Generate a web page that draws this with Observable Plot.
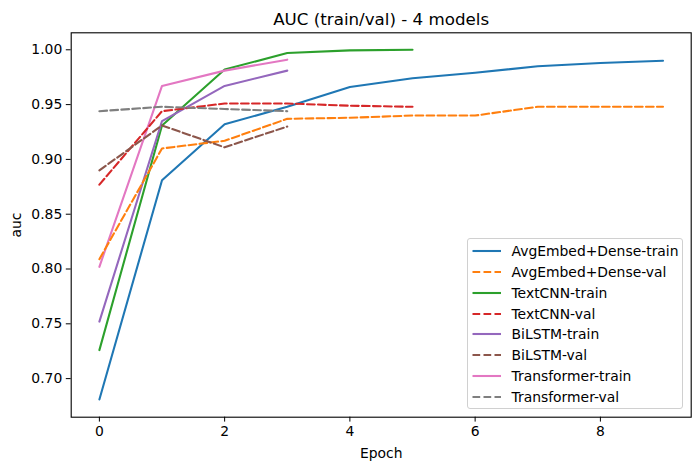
<!DOCTYPE html>
<html><head><meta charset="utf-8">
<script src="https://cdn.jsdelivr.net/npm/d3@7"></script>
<script src="https://cdn.jsdelivr.net/npm/@observablehq/plot@0.6"></script>
<style>
body{margin:0;background:#fff;font-family:"DejaVu Sans",sans-serif;}
#wrap{position:relative;width:700px;height:470px;}
#legend{position:absolute;left:466.5px;top:238px;width:216.5px;height:171px;box-sizing:border-box;border:1px solid #d0d0d0;border-radius:3px;background:rgba(255,255,255,0.8);font-size:13.9px;color:#000;}
.row{position:absolute;left:0;height:20px;width:210px;}
.row svg{position:absolute;left:4px;top:0;}
.row span{position:absolute;left:44px;top:1px;line-height:18px;white-space:nowrap;}
</style></head><body><div id="wrap"></div>
<script>
// ---- data ----
const models = ["AvgEmbed+Dense", "TextCNN", "BiLSTM", "Transformer"];
const colorsTrain = ["#1f77b4", "#2ca02c", "#9467bd", "#e377c2"];
const colorsVal = ["#ff7f0e", "#d62728", "#8c564b", "#7f7f7f"];
const avgTrain = [0.681, 0.881, 0.932, 0.948, 0.966, 0.974, 0.979, 0.985, 0.988, 0.990];
const avgVal = [0.809, 0.910, 0.917, 0.937, 0.938, 0.940, 0.940, 0.948, 0.948, 0.948];
const cnnTrain = [0.726, 0.931, 0.982, 0.997, 0.9995, 1.000];
const cnnVal = [0.877, 0.944, 0.951, 0.951, 0.949, 0.948];
const lstmTrain = [0.752, 0.935, 0.967, 0.981];
const lstmVal = [0.890, 0.931, 0.911, 0.930];
const trfTrain = [0.802, 0.967, 0.981, 0.991];
const trfVal = [0.944, 0.948, 0.946, 0.944];
const yTicks = [0.70, 0.75, 0.80, 0.85, 0.90, 0.95, 1.00];
const xTicks = [0, 2, 4, 6, 8];

const trainSeries = [avgTrain, cnnTrain, lstmTrain, trfTrain];
const valSeries = [avgVal, cnnVal, lstmVal, trfVal];
const names = [], colors = [];
models.forEach((m, i) => {
  names.push(m + "-train", m + "-val");
  colors.push(colorsTrain[i], colorsVal[i]);
});
const trainRows = [], valRows = [];
models.forEach((m, i) => {
  trainSeries[i].forEach((v, e) => trainRows.push({series: m + "-train", epoch: e, auc: v}));
  valSeries[i].forEach((v, e) => valRows.push({series: m + "-val", epoch: e, auc: v}));
});

const lw = 2.08;
const chart = Plot.plot({
  width: 700, height: 470,
  marginLeft: 70.7, marginRight: 9.3, marginTop: 32.3, marginBottom: 53.3,
  style: {fontFamily: "DejaVu Sans, sans-serif", fontSize: "13.9px", color: "#000", background: "#fff"},
  x: {domain: [-0.45, 9.45], ticks: xTicks, tickFormat: d3.format("d"), tickSize: 4.9, tickPadding: 4, label: "Epoch", labelAnchor: "center", labelArrow: "none", labelOffset: 41},
  y: {domain: [0.6648, 1.0155], ticks: yTicks, tickFormat: d3.format(".2f"), tickSize: 4.9, tickPadding: 4, label: "auc", labelAnchor: "center", labelArrow: "none", labelOffset: 60},
  color: {domain: names, range: colors},
  marks: [
    Plot.line(trainRows, {x: "epoch", y: "auc", z: "series", stroke: "series", strokeWidth: lw}),
    Plot.line(valRows, {x: "epoch", y: "auc", z: "series", stroke: "series", strokeWidth: lw, strokeDasharray: "7.7,3.3"}),
    Plot.frame({stroke: "#000", strokeWidth: 1.1}),
    Plot.text(["AUC (train/val) - 4 models"], {frameAnchor: "top", dy: -8, lineAnchor: "bottom", fontSize: 16.7, fill: "#000"})
  ]
});
const wrap = document.getElementById("wrap");
wrap.appendChild(chart);

// legend
const leg = document.createElement("div");
leg.id = "legend";
names.forEach((n, i) => {
  const row = document.createElement("div");
  row.className = "row";
  row.style.top = (2 + i * 20.85) + "px";
  const dashed = n.endsWith("-val");
  row.innerHTML = `<svg width="32" height="20"><line x1="0.5" x2="29" y1="10" y2="10" stroke="${colors[i]}" stroke-width="${lw}" ${dashed ? 'stroke-dasharray="7.7,3.3"' : ''}/></svg><span>${n}</span>`;
  leg.appendChild(row);
});
wrap.appendChild(leg);
</script></body></html>
